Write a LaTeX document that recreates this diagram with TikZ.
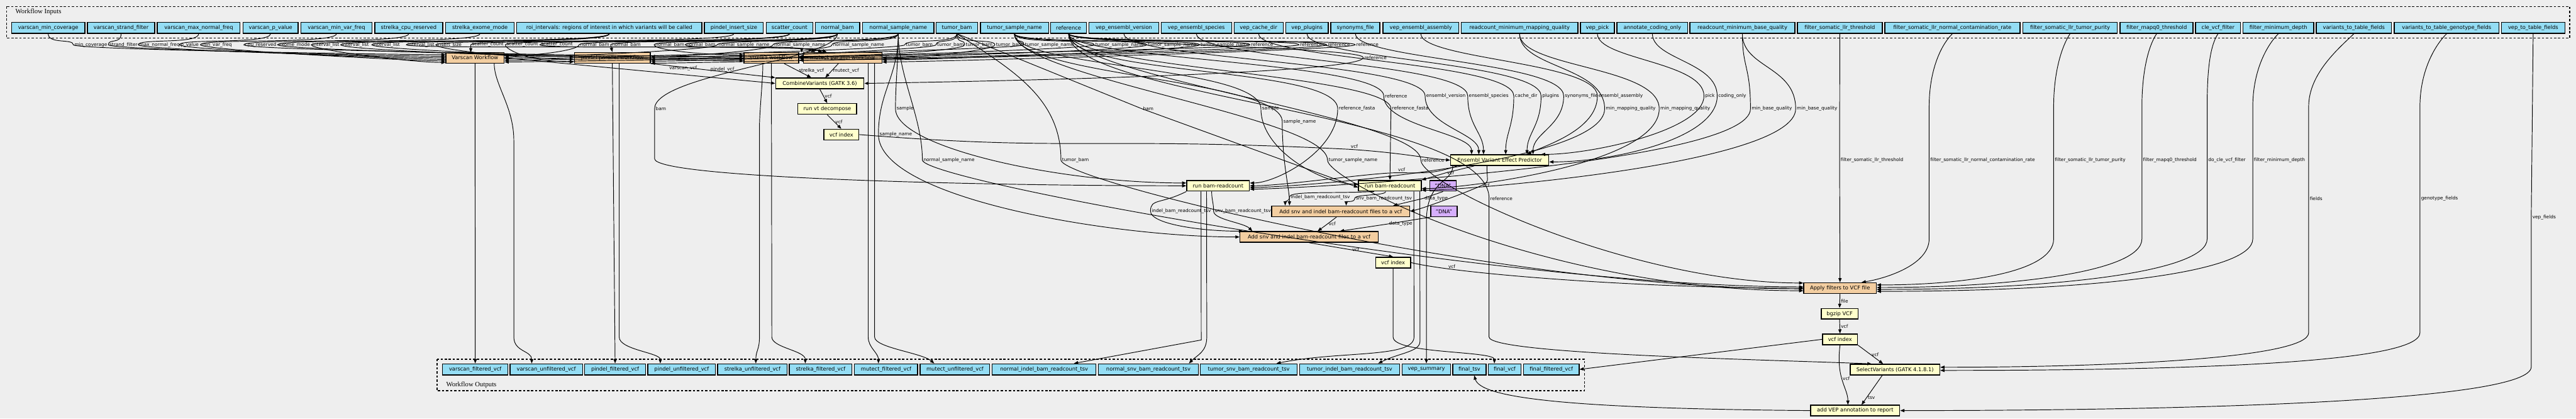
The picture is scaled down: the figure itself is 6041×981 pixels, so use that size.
\documentclass[tikz,border=0pt]{standalone}
\usepackage{fontspec}
\setmainfont{DejaVu Sans}
\newfontfamily\clusterfont{Liberation Serif}
\usetikzlibrary{arrows.meta}
\definecolor{inblue}{HTML}{94DDF4}
\definecolor{wforange}{HTML}{F3CEA1}
\definecolor{toolyel}{HTML}{FFFFCC}
\definecolor{dnapurp}{HTML}{D5AEFC}
\definecolor{bggray}{HTML}{EEEEEE}

\begin{document}
\begin{tikzpicture}[x=0.01cm, y=-0.01cm,
  every node/.style={font=\fontsize{3.5}{4}\selectfont},
  inbox/.style={draw, line width=0.6pt, fill=inblue, minimum height=0.26cm, inner sep=0pt},
  wfbox/.style={inbox, fill=wforange, minimum height=0.25cm},
  toolbox/.style={inbox, fill=toolyel, minimum height=0.25cm},
  dnabox/.style={inbox, fill=dnapurp, minimum height=0.25cm},
  lbl/.style={font=\fontsize{3.1}{3.6}\selectfont, inner sep=0.6pt},
  lblr/.style={lbl, anchor=west},
  flow/.style={-{Triangle[length=2.8pt,width=2.1pt]}, line width=0.4pt},
  cluster/.style={line width=0.55pt, dash pattern=on 1.5pt off 1.2pt}
]
\useasboundingbox (0,0) rectangle (6041,981);
\fill[bggray] (0,0) rectangle (6041,981);

% clusters
\draw[cluster] (15,15) rectangle (6026,89);
\node[anchor=west, font=\clusterfont\fontsize{4.5}{5}\selectfont] (inlabel) at (24,28) {Workflow Inputs};
\draw[cluster] (1025,842) rectangle (3716,916);
\node[anchor=west, font=\clusterfont\fontsize{4.5}{5}\selectfont] (outlabel) at (1034,903) {Workflow Outputs};

% workflow inputs
\node[inbox, minimum width=1.72cm] (vmc) at (113,65) {varscan\_min\_coverage};
\node[inbox, minimum width=1.58cm] (vsf) at (284,65) {varscan\_strand\_filter};
\node[inbox, minimum width=1.94cm] (vmnf) at (466,65) {varscan\_max\_normal\_freq};
\node[inbox, minimum width=1.29cm] (vpv) at (634.5,65) {varscan\_p\_value};
\node[inbox, minimum width=1.66cm] (vmvf) at (789,65) {varscan\_min\_var\_freq};
\node[inbox, minimum width=1.59cm] (scr) at (958.5,65) {strelka\_cpu\_reserved};
\node[inbox, minimum width=1.61cm] (sem) at (1125.5,65) {strelka\_exome\_mode};
\node[inbox, minimum width=4.34cm] (roi) at (1429,65) {roi\_intervals: regions of interest in which variants will be called};
\node[inbox, minimum width=1.38cm] (pis) at (1721,65) {pindel\_insert\_size};
\node[inbox, minimum width=1.09cm] (sc) at (1851.5,65) {scatter\_count};
\node[inbox, minimum width=1.04cm] (nb) at (1964,65) {normal\_bam};
\node[inbox, minimum width=1.67cm] (nsn) at (2106.5,65) {normal\_sample\_name};
\node[inbox, minimum width=0.98cm] (tb) at (2244,65) {tumor\_bam};
\node[inbox, minimum width=1.60cm] (tsn) at (2379,65) {tumor\_sample\_name};
\node[inbox, minimum width=0.84cm] (ref) at (2506,65) {reference};
\node[inbox, minimum width=1.63cm] (vev) at (2635.5,65) {vep\_ensembl\_version};
\node[inbox, minimum width=1.65cm] (ves) at (2805.5,65) {vep\_ensembl\_species};
\node[inbox, minimum width=1.15cm] (vcd) at (2951.5,65) {vep\_cache\_dir};
\node[inbox, minimum width=1.00cm] (vpl) at (3065,65) {vep\_plugins};
\node[inbox, minimum width=1.15cm] (syn) at (3178.5,65) {synonyms\_file};
\node[inbox, minimum width=1.78cm] (vea) at (3332,65) {vep\_ensembl\_assembly};
\node[inbox, minimum width=2.73cm] (rmmq) at (3563.5,65) {readcount\_minimum\_mapping\_quality};
\node[inbox, minimum width=0.80cm] (vpk) at (3746,65) {vep\_pick};
\node[inbox, minimum width=1.66cm] (aco) at (3875,65) {annotate\_coding\_only};
\node[inbox, minimum width=2.46cm] (rmbq) at (4086,65) {readcount\_minimum\_base\_quality};
\node[inbox, minimum width=1.99cm] (fslt) at (4314.5,65) {filter\_somatic\_llr\_threshold};
\node[inbox, minimum width=3.17cm] (fslnc) at (4578.5,65) {filter\_somatic\_llr\_normal\_contamination\_rate};
\node[inbox, minimum width=2.21cm] (fsltp) at (4854.5,65) {filter\_somatic\_llr\_tumor\_purity};
\node[inbox, minimum width=1.71cm] (fmq) at (5057.5,65) {filter\_mapq0\_threshold};
\node[inbox, minimum width=1.05cm] (cle) at (5201.5,65) {cle\_vcf\_filter};
\node[inbox, minimum width=1.66cm] (fmd) at (5343,65) {filter\_minimum\_depth};
\node[inbox, minimum width=1.76cm] (vttf) at (5520,65) {variants\_to\_table\_fields};
\node[inbox, minimum width=2.45cm] (vttg) at (5737.5,65) {variants\_to\_table\_genotype\_fields};
\node[inbox, minimum width=1.49cm] (vtf) at (5940.5,65) {vep\_to\_table\_fields};

% steps
\node[wfbox, minimum width=1.36cm] (varscan) at (1114,135.5) {Varscan Workflow};
\node[wfbox, minimum width=1.78cm] (pindel) at (1436,135.5) {pindel parallel workflow};
\node[wfbox, minimum width=1.28cm] (strelka) at (1809,135.5) {strelka workflow};
\node[wfbox, minimum width=1.84cm] (mutect) at (1976,135.5) {mutect parallel workflow};
\node[toolbox, minimum width=2.07cm] (combine) at (1922.5,195.5) {CombineVariants (GATK 3.6)};
\node[toolbox, minimum width=1.38cm] (decomp) at (1940,255.5) {run vt decompose};
\node[toolbox, minimum width=0.82cm] (vcfidxa) at (1973,315.5) {vcf index};
\node[toolbox, minimum width=2.30cm] (vep) at (3517,375.5) {Ensembl Variant Effect Predictor};
\node[toolbox, minimum width=1.47cm] (brca) at (2856.5,435.5) {run bam-readcount};
\node[toolbox, minimum width=1.47cm] (brcb) at (3259.5,435.5) {run bam-readcount};
\node[dnabox, minimum width=0.62cm] (dnaa) at (3384,435.5) {"DNA"};
\node[wfbox, minimum width=3.24cm] (adda) at (3144,495.5) {Add snv and indel bam-readcount files to a vcf};
\node[dnabox, minimum width=0.62cm] (dnab) at (3386,495.5) {"DNA"};
\node[wfbox, minimum width=3.24cm] (addb) at (3070,555.5) {Add snv and indel bam-readcount files to a vcf};
\node[toolbox, minimum width=0.82cm] (vcfidxb) at (3267,615.5) {vcf index};
\node[wfbox, minimum width=1.70cm] (apply) at (4315,675.5) {Apply filters to VCF file};
\node[toolbox, minimum width=0.86cm] (bgzip) at (4314,735.5) {bgzip VCF};
\node[toolbox, minimum width=0.82cm] (vcfidxc) at (4315,795.5) {vcf index};
\node[toolbox, minimum width=2.10cm] (selvar) at (4444,866.5) {SelectVariants (GATK 4.1.8.1)};
\node[toolbox, minimum width=2.09cm] (addvep) at (4350.5,962.5) {add VEP annotation to report};

% workflow outputs
\node[inbox, minimum width=1.53cm] (ovf) at (1114.5,866) {varscan\_filtered\_vcf};
\node[inbox, minimum width=1.70cm] (ovu) at (1281,866) {varscan\_unfiltered\_vcf};
\node[inbox, minimum width=1.43cm] (opf) at (1442.5,866) {pindel\_filtered\_vcf};
\node[inbox, minimum width=1.59cm] (opu) at (1598.5,866) {pindel\_unfiltered\_vcf};
\node[inbox, minimum width=1.63cm] (osu) at (1764.5,866) {strelka\_unfiltered\_vcf};
\node[inbox, minimum width=1.47cm] (osf) at (1924.5,866) {strelka\_filtered\_vcf};
\node[inbox, minimum width=1.48cm] (omf) at (2078,866) {mutect\_filtered\_vcf};
\node[inbox, minimum width=1.63cm] (omu) at (2239.5,866) {mutect\_unfiltered\_vcf};
\node[inbox, minimum width=2.43cm] (onib) at (2448.5,866) {normal\_indel\_bam\_readcount\_tsv};
\node[inbox, minimum width=2.34cm] (onsb) at (2693,866) {normal\_snv\_bam\_readcount\_tsv};
\node[inbox, minimum width=2.27cm] (otsb) at (2928.5,866) {tumor\_snv\_bam\_readcount\_tsv};
\node[inbox, minimum width=2.34cm] (otib) at (3165,866) {tumor\_indel\_bam\_readcount\_tsv};
\node[inbox, minimum width=1.14cm] (ovs) at (3345,866) {vep\_summary};
\node[inbox, minimum width=0.78cm] (oft) at (3446,866) {final\_tsv};
\node[inbox, minimum width=0.77cm] (ofv) at (3528.5,866) {final\_vcf};
\node[inbox, minimum width=1.30cm] (offv) at (3638,866) {final\_filtered\_vcf};

% inputs into the four callers
\draw[flow] (vmc.south) .. controls +(0,25) and +(0,-15) .. (172,105) node[lblr]{min\_coverage} .. controls +(0,12) and +(-80,0) .. (varscan.174);
\draw[flow] (vsf.south) .. controls +(0,25) and +(0,-15) .. (254,105) node[lblr]{strand\_filter} .. controls +(0,12) and +(-80,0) .. (varscan.177);
\draw[flow] (vmnf.south) .. controls +(0,25) and +(0,-15) .. (324,105) node[lblr]{max\_normal\_freq} .. controls +(0,12) and +(-80,0) .. (varscan.180);
\draw[flow] (vpv.south) .. controls +(0,25) and +(0,-15) .. (421,105) node[lblr]{p\_value} .. controls +(0,12) and +(-80,0) .. (varscan.183);
\draw[flow] (vmvf.south) .. controls +(0,25) and +(0,-15) .. (470,105) node[lblr]{min\_var\_freq} .. controls +(0,12) and +(-80,0) .. (varscan.186);
\draw[flow] (scr.south) .. controls +(0,25) and +(0,-15) .. (572,105) node[lblr]{cpu\_reserved} .. controls +(0,14) and +(-150,0) .. (strelka.178);
\draw[flow] (sem.south) .. controls +(0,25) and +(0,-15) .. (651,105) node[lblr]{exome\_mode} .. controls +(0,14) and +(-150,0) .. (strelka.182);
\draw[flow] (roi.south) .. controls +(0,25) and +(0,-15) .. (730,105) node[lblr]{interval\_list} .. controls +(0,12) and +(-80,0) .. (varscan.189);
\draw[flow] (roi.south) .. controls +(0,25) and +(0,-15) .. (799,105) node[lblr]{interval\_list} .. controls +(0,12) and +(-100,0) .. (pindel.178);
\draw[flow] (roi.south) .. controls +(0,25) and +(0,-15) .. (872,105) node[lblr]{interval\_list} .. controls +(0,14) and +(-150,0) .. (strelka.186);
\draw[flow] (roi.south) .. controls +(0,25) and +(0,-15) .. (953,105) node[lblr]{interval\_list} .. controls +(0,12) and +(-60,-20) .. (mutect.160);
\draw[flow] (pis.south) .. controls +(0,25) and +(0,-15) .. (1022,105) node[lblr]{insert\_size} .. controls +(0,12) and +(-100,0) .. (pindel.182);
\draw[flow] (sc.south) .. controls +(0,25) and +(0,-15) .. (1104,105) node[lblr]{scatter\_count} -- (1104,123);
\draw[flow] (sc.south) .. controls +(0,25) and +(0,-15) .. (1185,105) node[lblr]{scatter\_count} .. controls +(0,12) and +(-100,0) .. (pindel.186);
\draw[flow] (sc.south) .. controls +(0,25) and +(0,-15) .. (1266,105) node[lblr]{scatter\_count} .. controls +(0,12) and +(-60,-20) .. (mutect.164);
\draw[flow] (nb.south) .. controls +(0,25) and +(0,-15) .. (1358,105) node[lblr]{normal\_bam} .. controls +(0,12) and +(80,0) .. (varscan.4);
\draw[flow] (nb.south) .. controls +(0,25) and +(0,-15) .. (1432,105) node[lblr]{normal\_bam} -- (pindel.north);
\draw[flow] (nb.south) .. controls +(0,25) and +(0,-15) .. (1534,105) node[lblr]{normal\_bam} .. controls +(0,12) and +(-100,0) .. (strelka.174);
\draw[flow] (nb.south) .. controls +(0,25) and +(0,-15) .. (1607,105) node[lblr]{normal\_bam} .. controls +(0,12) and +(-50,-20) .. (mutect.168);
\draw[flow] (nsn.south) .. controls +(0,25) and +(0,-15) .. (1682,105) node[lblr]{normal\_sample\_name} .. controls +(0,12) and +(100,0) .. (varscan.1);
\draw[flow] (nsn.south) .. controls +(0,25) and +(0,-15) .. (1813,105) node[lblr]{normal\_sample\_name} .. controls +(0,12) and +(100,0) .. (pindel.2);
\draw[flow] (nsn.south) .. controls +(0,25) and +(0,-15) .. (1951,105) node[lblr]{normal\_sample\_name} .. controls +(0,10) and +(0,-8) .. (1880,123);
\draw[flow] (tb.south) .. controls +(0,25) and +(0,-15) .. (2122,105) node[lblr]{tumor\_bam} .. controls +(0,12) and +(100,0) .. (varscan.-2);
\draw[flow] (tb.south) .. controls +(0,25) and +(0,-15) .. (2195,105) node[lblr]{tumor\_bam} .. controls +(0,12) and +(100,0) .. (pindel.-2);
\draw[flow] (tb.south) .. controls +(0,25) and +(0,-15) .. (2262,105) node[lblr]{tumor\_bam} .. controls +(0,14) and +(150,0) .. (strelka.3);
\draw[flow] (tb.south) .. controls +(0,25) and +(0,-15) .. (2333,105) node[lblr]{tumor\_bam} .. controls +(0,12) and +(100,0) .. (mutect.0);
\draw[flow] (tsn.south) .. controls +(0,25) and +(0,-15) .. (2401,105) node[lblr]{tumor\_sample\_name} .. controls +(0,12) and +(100,0) .. (varscan.-5);
\draw[flow] (tsn.south) .. controls +(0,25) and +(0,-15) .. (2566,105) node[lblr]{tumor\_sample\_name} .. controls +(0,12) and +(100,0) .. (pindel.-5);
\draw[flow] (tsn.south) .. controls +(0,25) and +(0,-15) .. (2689,105) node[lblr]{tumor\_sample\_name} .. controls +(0,14) and +(150,0) .. (strelka.-1);
\draw[flow] (tsn.south) .. controls +(0,25) and +(0,-15) .. (2813,105) node[lblr]{tumor\_sample\_name} .. controls +(0,12) and +(100,0) .. (mutect.-3);
\draw[flow] (ref.south) .. controls +(0,25) and +(0,-15) .. (2931,105) node[lblr]{reference} .. controls +(0,12) and +(100,0) .. (varscan.-8);
\draw[flow] (ref.south) .. controls +(0,25) and +(0,-15) .. (3046,105) node[lblr]{reference} .. controls +(0,12) and +(100,0) .. (pindel.-8);
\draw[flow] (ref.south) .. controls +(0,25) and +(0,-15) .. (3111,105) node[lblr]{reference} .. controls +(0,14) and +(150,0) .. (strelka.-5);
\draw[flow] (ref.south) .. controls +(0,25) and +(0,-15) .. (3178,105) node[lblr]{reference} .. controls +(0,12) and +(100,0) .. (mutect.-6);
\draw[flow] (ref.south) .. controls +(0,25) and +(0,-25) .. (3197,135) node[lblr]{reference} .. controls +(0,30) and +(600,-10) .. (combine.east);

% callers to outputs and merge
\draw[flow] (varscan.south) -- (ovf.north);
\draw[flow] ([xshift=0.45cm]varscan.south) .. controls +(0,50) and +(0,-80) .. (1205,330) -- (1205,790) .. controls +(0,35) and +(0,-30) .. ([xshift=-0.34cm]ovu.north);
\draw[flow] (pindel.south) -- (opf.north);
\draw[flow] ([xshift=0.16cm]pindel.south) -- (1452,790) .. controls +(0,30) and +(0,-25) .. ([xshift=-0.5cm]opu.north);
\draw[flow] ([xshift=-0.2cm]strelka.south) .. controls +(0,40) and +(0,-40) .. (1781,300) -- (1781,790) .. controls +(0,30) and +(0,-30) .. ([xshift=0.08cm]osu.north);
\draw[flow] (strelka.south) -- (1810,790) .. controls +(0,25) and +(0,-30) .. ([xshift=-0.36cm]osf.north);
\draw[flow] ([xshift=0.6cm]mutect.south) .. controls +(0,40) and +(0,-40) .. (2036,300) -- (2036,790) .. controls +(0,25) and +(0,-25) .. ([xshift=-0.18cm]omf.north);
\draw[flow] ([xshift=0.75cm]mutect.south) -- (2051,790) .. controls +(0,25) and +(-30,-25) .. ([xshift=-0.485cm]omu.north);
\draw[flow] (varscan.east) -- node[lbl, pos=0.66, above=2pt]{varscan\_vcf} (combine.west);
\draw[flow] (pindel.south east) -- node[lbl, pos=0.68, above left]{pindel\_vcf} (combine.north west);
\draw[flow] ([xshift=0.3cm]strelka.south) -- node[lbl, right]{strelka\_vcf} ([xshift=-0.2cm]combine.north);
\draw[flow] ([xshift=-0.1cm]mutect.south) -- node[lbl, right]{mutect\_vcf} ([xshift=0.13cm]combine.north);
\draw[flow] (combine.south) -- node[lbl, right]{vcf} (decomp.north);
\draw[flow] (decomp.south) -- node[lbl, right]{vcf} (vcfidxa.north);
\draw[flow] (vcfidxa.east) .. controls +(500,40) and +(-600,-30) .. (3165,350) node[lbl, anchor=south west]{vcf} .. controls +(120,8) and +(-60,-5) .. (vep.west);

% annotation inputs
\draw[flow] (ref.south) .. controls +(0,60) and +(0,-80) .. (3245,225) node[lblr]{reference} .. controls +(0,70) and +(0,-50) .. ([xshift=-0.66cm]vep.north);
\draw[flow] (vev.south) .. controls +(0,60) and +(0,-80) .. (3342,225) node[lblr]{ensembl\_version} .. controls +(0,70) and +(0,-50) .. ([xshift=-0.49cm]vep.north);
\draw[flow] (ves.south) .. controls +(0,60) and +(0,-80) .. (3442,225) node[lblr]{ensembl\_species} .. controls +(0,70) and +(0,-50) .. ([xshift=-0.38cm]vep.north);
\draw[flow] (vcd.south) .. controls +(0,60) and +(0,-80) .. (3550,225) node[lblr]{cache\_dir} .. controls +(0,70) and +(0,-50) .. ([xshift=0.14cm]vep.north);
\draw[flow] (vpl.south) .. controls +(0,60) and +(0,-80) .. (3614,225) node[lblr]{plugins} .. controls +(0,70) and +(0,-50) .. ([xshift=0.64cm]vep.north);
\draw[flow] (syn.south) .. controls +(0,60) and +(0,-80) .. (3667,225) node[lblr]{synonyms\_file} .. controls +(0,70) and +(0,-50) .. ([xshift=0.78cm]vep.north);
\draw[flow] (vea.south) .. controls +(0,60) and +(0,-80) .. (3746,225) node[lblr]{ensembl\_assembly} .. controls +(0,80) and +(40,-20) .. (vep.12);
\draw[flow] (vpk.south) .. controls +(0,60) and +(0,-80) .. (3996,225) node[lblr]{pick} .. controls +(0,80) and +(120,0) .. (vep.8);
\draw[flow] (aco.south) .. controls +(0,60) and +(0,-80) .. (4027,225) node[lblr]{coding\_only} .. controls +(0,100) and +(150,0) .. (vep.-2);

% readcounts
\draw[flow] (nb.south) .. controls +(0,60) and +(0,-80) .. (1535,255) node[lblr]{bam} -- (1535,372) .. controls +(0,45) and +(-500,0) .. (brca.west);
\draw[flow] (nsn.south) .. controls +(0,60) and +(0,-60) .. (2100,255) node[lblr]{sample} .. controls +(0,90) and +(-300,0) .. (brca.175);
\draw[flow] (tb.south) -- (2678,255) node[lblr]{bam} -- (brcb.183);
\draw[flow] (tsn.south) .. controls +(0,80) and +(0,-100) .. (2957,255) node[lblr]{sample} .. controls +(0,100) and +(-80,0) .. (brcb.177);
\draw[flow] (ref.south) .. controls +(0,100) and +(0,-100) .. (3137,255) node[lblr]{reference\_fasta} .. controls +(0,100) and +(60,0) .. (brca.5);
\draw[flow] (ref.south) .. controls +(0,80) and +(0,-80) .. (3262,255) node[lblr]{reference\_fasta} -- (brcb.north);
\draw[flow] ([xshift=-1.0cm]vep.south) .. controls +(-60,20) and +(60,0) .. (3276,405) node[lbl, anchor=south west]{vcf} .. controls +(-60,0) and +(80,0) .. (brca.0);
\draw[flow] ([xshift=-0.6cm]vep.south) -- (3391,405) node[lblr]{vcf} -- (brcb.north east);
\draw[flow] (rmmq.south) .. controls +(0,80) and +(0,-100) .. (3763,255) node[lblr]{min\_mapping\_quality} .. controls +(0,130) and +(100,0) .. (brca.-3);
\draw[flow] (rmmq.south) .. controls +(0,80) and +(0,-100) .. (3891,255) node[lblr]{min\_mapping\_quality} .. controls +(0,130) and +(100,0) .. (brcb.-5);
\draw[flow] (rmbq.south) .. controls +(0,80) and +(0,-100) .. (4105,255) node[lblr]{min\_base\_quality} .. controls +(0,130) and +(100,0) .. (brca.-6);
\draw[flow] (rmbq.south) .. controls +(0,80) and +(0,-100) .. (4211,255) node[lblr]{min\_base\_quality} .. controls +(0,130) and +(100,0) .. (brcb.-8);

% readcount annotation
\draw[flow] (brcb.200) .. controls +(-100,5) and +(0,-15) .. (3024,462) node[lblr]{indel\_bam\_readcount\_tsv} .. controls +(0,10) and +(0,-10) .. ([xshift=-1.3cm]adda.north);
\draw[flow] ([xshift=-0.1cm]brcb.south) .. controls +(0,10) and +(0,-10) .. (3177,465) node[lblr]{snv\_bam\_readcount\_tsv} .. controls +(0,10) and +(0,-10) .. ([xshift=0.13cm]adda.north);
\draw[flow] (dnaa.south) -- (3338,465) node[lblr]{data\_type} -- ([xshift=1.23cm]adda.north);
\draw[flow] ([xshift=-0.3cm]vep.south) .. controls +(0,40) and +(20,-10) .. (3474,435) node[lblr]{vcf} .. controls +(-20,10) and +(40,-10) .. (adda.east);
\draw[flow] (tsn.south) .. controls +(0,100) and +(0,-100) .. (3007,285) node[lblr]{sample\_name} .. controls +(0,100) and +(0,-40) .. ([xshift=-1.2cm]adda.north);
\draw[flow] (brca.south west) .. controls +(-60,30) and +(0,-30) .. (2698,495) node[lblr]{indel\_bam\_readcount\_tsv} .. controls +(0,30) and +(-100,0) .. (addb.175);
\draw[flow] ([xshift=-0.15cm]brca.south) .. controls +(0,20) and +(0,-20) .. (2846,495) node[lblr]{snv\_bam\_readcount\_tsv} .. controls +(0,20) and +(-20,-20) .. ([xshift=-1.33cm]addb.north);
\draw[flow] ([xshift=-0.1cm]adda.south) -- (3113,525) node[lblr]{vcf} -- ([xshift=0.2cm]addb.north);
\draw[flow] (dnab.south west) -- (3255,525) node[lblr]{data\_type} -- ([xshift=0.72cm]addb.north);
\draw[flow] (nsn.south) .. controls +(0,100) and +(0,-100) .. (2060,315) node[lblr]{sample\_name} .. controls +(0,150) and +(-300,0) .. (addb.west);
\draw[flow] (addb.south) -- node[lbl, right]{vcf} (vcfidxb.north);

% filtering
\draw[flow] (vcfidxb.east) .. controls +(100,25) and +(-400,0) .. node[lbl, pos=0.2, above]{vcf} (apply.west);
\draw[flow] (nsn.south) .. controls +(0,100) and +(0,-100) .. (2163,375) node[lblr]{normal\_sample\_name} .. controls +(0,50) and +(-700,0) .. (apply.178);
\draw[flow] (tb.south) .. controls +(120,80) and +(0,-150) .. (2488,375) node[lblr]{tumor\_bam} .. controls +(0,50) and +(-700,0) .. (apply.181);
\draw[flow] (tsn.south) .. controls +(0,100) and +(0,-100) .. (3113,375) node[lblr]{tumor\_sample\_name} .. controls +(0,50) and +(-600,0) .. (apply.184);
\draw[flow] (ref.south) .. controls +(0,100) and +(0,-100) .. (3332,375) node[lblr]{reference} .. controls +(0,60) and +(-400,0) .. (apply.172);
\draw[flow] (fslt.south) -- (4314,375) node[lblr]{filter\_somatic\_llr\_threshold} -- (apply.north);
\draw[flow] (fslnc.south) .. controls +(-30,30) and +(0,-80) .. (4524,250) -- (4524,375) node[lblr]{filter\_somatic\_llr\_normal\_contamination\_rate} -- (4524,560) .. controls +(0,60) and +(60,-10) .. (apply.15);
\draw[flow] (fsltp.south) .. controls +(-20,30) and +(0,-80) .. (4816,250) -- (4816,375) node[lblr]{filter\_somatic\_llr\_tumor\_purity} -- (4816,560) .. controls +(0,80) and +(200,0) .. (apply.5);
\draw[flow] (fmq.south) .. controls +(-20,30) and +(0,-80) .. (5023,250) -- (5023,375) node[lblr]{filter\_mapq0\_threshold} -- (5023,560) .. controls +(0,80) and +(300,0) .. (apply.1);
\draw[flow] (cle.south) .. controls +(-20,30) and +(0,-80) .. (5176,250) -- (5176,375) node[lblr]{do\_cle\_vcf\_filter} -- (5176,560) .. controls +(0,80) and +(400,0) .. (apply.-2);
\draw[flow] (fmd.south) .. controls +(-30,30) and +(0,-80) .. (5283,250) -- (5283,375) node[lblr]{filter\_minimum\_depth} -- (5283,560) .. controls +(0,80) and +(500,0) .. (apply.-5);
\draw[flow] (apply.south) -- node[lbl, right]{file} (bgzip.north);
\draw[flow] (bgzip.south) -- node[lbl, right]{vcf} (vcfidxc.north);

% report
\draw[flow] (vcfidxc.south east) -- node[lbl, right]{vcf} ([xshift=-0.28cm]selvar.north);
\draw[flow] (vcfidxc.south) .. controls +(-10,80) and +(0,-40) .. node[lbl, right, pos=0.45]{vcf} ([xshift=-0.17cm]addvep.north);
\draw[flow] ([xshift=-0.3cm]selvar.south) -- node[lbl, right, pos=0.75]{tsv} ([xshift=0.15cm]addvep.north);
\draw[flow] (ref.south) .. controls +(0,150) and +(0,-200) .. (3492,465) node[lblr]{reference} -- (3492,790) .. controls +(0,40) and +(-250,-10) .. ([xshift=-0.55cm]selvar.north);
\draw[flow] (vttf.south) .. controls +(-30,30) and +(0,-80) .. (5414,250) -- (5414,465) node[lblr]{fields} -- (5414,780) .. controls +(0,60) and +(400,0) .. (selvar.3);
\draw[flow] (vttg.south) .. controls +(-30,30) and +(0,-80) .. (5675,250) -- (5675,465) node[lblr]{genotype\_fields} -- (5675,780) .. controls +(0,70) and +(600,0) .. (selvar.-1);
\draw[flow] (vtf.south) -- (5936,510) node[lblr]{vep\_fields} -- (5936,860) .. controls +(0,80) and +(700,0) .. (addvep.east);

% readcount and final outputs
\draw[flow] ([xshift=-0.4cm]brca.south) -- (2817,797) -- ([xshift=0.7cm]onib.north);
\draw[flow] ([xshift=-0.27cm]brca.south) -- (2830,790) .. controls +(0,35) and +(20,-20) .. ([xshift=0.95cm]onsb.north);
\draw[flow] ([xshift=0.56cm]brcb.south) -- (3316,790) .. controls +(0,50) and +(150,-30) .. ([xshift=0.65cm]otsb.north);
\draw[flow] ([xshift=0.7cm]brcb.south) -- (3330,800) .. controls +(0,25) and +(50,-25) .. ([xshift=0.67cm]otib.north);
\draw[flow] ([xshift=-1.1cm]vep.south) .. controls +(0,40) and +(0,-100) .. (3345,520) -- (ovs.north);
\draw[flow] (vcfidxb.south) -- (3267,790) .. controls +(0,40) and +(0,-30) .. ([xshift=-0.24cm]ofv.north);
\draw[flow] (vcfidxc.west) -- (offv.east);
\draw[flow] (addvep.west) .. controls +(-600,-5) and +(15,50) .. ([xshift=0.11cm]oft.south);
\end{tikzpicture}
\end{document}
